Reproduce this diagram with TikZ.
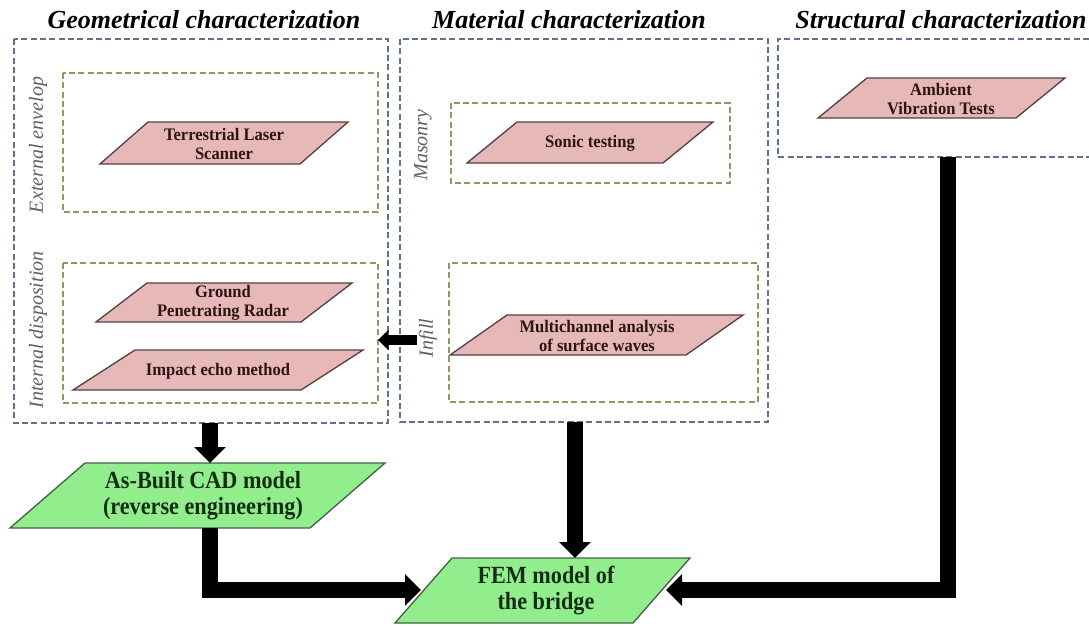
\documentclass[tikz,border=0pt]{standalone}
\usepackage{fontspec}
\setmainfont{Liberation Serif}
\newfontfamily\greenserif[FakeStretch=0.9]{Liberation Serif}
\newfontfamily\pinkserif[FakeStretch=0.94]{Liberation Serif}
\usetikzlibrary{arrows.meta}

\definecolor{pinkfill}{RGB}{230,185,184}
\definecolor{pinkline}{RGB}{85,65,65}
\definecolor{pinkink}{RGB}{45,20,20}
\definecolor{greenfill}{RGB}{146,238,140}
\definecolor{greenline}{RGB}{70,95,70}
\definecolor{greenink}{RGB}{20,45,20}
\definecolor{outerdash}{RGB}{95,115,145}
\definecolor{innerdash}{RGB}{150,150,100}
\definecolor{labelgray}{RGB}{95,95,95}

\tikzset{
  outerbox/.style={draw=outerdash, line width=0.9pt, dash pattern={on 4.5pt off 2.5pt}},
  innerbox/.style={draw=innerdash, line width=0.9pt, dash pattern={on 4.5pt off 2.5pt}},
  pinkpar/.style={draw=pinkline, fill=pinkfill, line width=1pt},
  greenpar/.style={draw=greenline, fill=greenfill, line width=1pt},
  headtitle/.style={font=\fontsize{19.5}{22}\selectfont\bfseries\itshape},
  pinktext/.style={align=center, text=pinkink, font=\pinkserif\fontsize{13.2}{14.25}\selectfont\bfseries},
  greentext/.style={align=center, text=greenink, font=\greenserif\fontsize{18.5}{19.5}\selectfont\bfseries},
  sidelabel/.style={rotate=90, text=labelgray, font=\fontsize{15}{18}\selectfont\itshape},
  fatarrow/.style={line width=12pt, line join=miter, -{Triangle[length=12pt,width=23pt]}},
  slimarrow/.style={line width=7.5pt, -{Triangle[length=8pt,width=15pt]}}
}

\begin{document}
\begin{tikzpicture}[x=0.75pt,y=0.75pt,yscale=-1,xscale=1]
        \useasboundingbox (0,0) rectangle (1089,626);
        % column frames
        \draw [outerbox] (14,39) rectangle (388,423);
        \draw [outerbox] (400,39) rectangle (768,422);
        \draw [outerbox] (1089,39) -- (778,39) -- (778,157) -- (1089,157);
        % sub frames
        \draw [innerbox] (63,73) rectangle (378,212);
        \draw [innerbox] (63,263) rectangle (378,403);
        \draw [innerbox] (451,103) rectangle (730,183);
        \draw [innerbox] (449,263) rectangle (758,402);
        % test methods
        \draw [pinkpar] (100,164) -- (148,122) -- (348,122) -- (300,164) -- cycle ;
        \draw [pinkpar] (96,322) -- (147,283) -- (352,283) -- (301,322) -- cycle ;
        \draw [pinkpar] (73,390) -- (135,350) -- (363,350) -- (301,390) -- cycle ;
        \draw [pinkpar] (467,163) -- (517,122) -- (713,122) -- (663,163) -- cycle ;
        \draw [pinkpar] (450,355) -- (507,315) -- (743,315) -- (686,355) -- cycle ;
        \draw [pinkpar] (818,118) -- (867,78) -- (1065,78) -- (1016,118) -- cycle ;
        % models
        \draw [greenpar] (10,528) -- (85,463) -- (385,463) -- (310,528) -- cycle ;
        \draw [greenpar] (395,623) -- (452,558) -- (690,558) -- (633,623) -- cycle ;

        \node [headtitle] (geotitle) at (204,20) {Geometrical characterization};
        \node [headtitle] (mattitle) at (569,20) {Material characterization};
        \node [headtitle] (strtitle) at (941,20) {Structural characterization};

        \node [sidelabel] (extlab) at (38,145) {External envelop};
        \node [sidelabel] (intlab) at (38,330) {Internal disposition};
        \node [sidelabel] (maslab) at (423,145) {Masonry};
        \node [sidelabel] (inflab) at (428,338) {Infill};

        \node [pinktext] (tls) at (224,144) {Terrestrial Laser\\Scanner};
        \node [pinktext] (gpr) at (223,303) {Ground\\Penetrating Radar};
        \node [pinktext] (iem) at (218,371) {Impact echo method};
        \node [pinktext] (sonic) at (590,143) {Sonic testing};
        \node [pinktext] (masw) at (597,336) {Multichannel analysis\\of surface waves};
        \node [pinktext] (avt) at (941,99) {Ambient\\Vibration Tests};

        \node [greentext] (cad) at (203,496) {As-Built CAD model\\(reverse engineering)};
        \node [greentext] (fem) at (546,591) {FEM model of\\the bridge};

        % arrow ends
        \coordinate (geobot) at (210,423);
        \coordinate (cadtop) at (210,463);
        \coordinate (cadbot) at (210,528);
        \coordinate (matbot) at (575,422);
        \coordinate (femtop) at (575,558);
        \coordinate (femleft) at (421,590);
        \coordinate (femright) at (666,590);
        \coordinate (strbot) at (948,157);
        \coordinate (infleft) at (417,340);
        \coordinate (intright) at (378,340);

        \draw [fatarrow] (geobot) -- (cadtop);
        \draw [fatarrow] (matbot) -- (femtop);
        \draw [fatarrow] (cadbot) |- (femleft);
        \draw [fatarrow] (strbot) |- (femright);
        \draw [slimarrow] (infleft) -- (intright);
\end{tikzpicture}
\end{document}
